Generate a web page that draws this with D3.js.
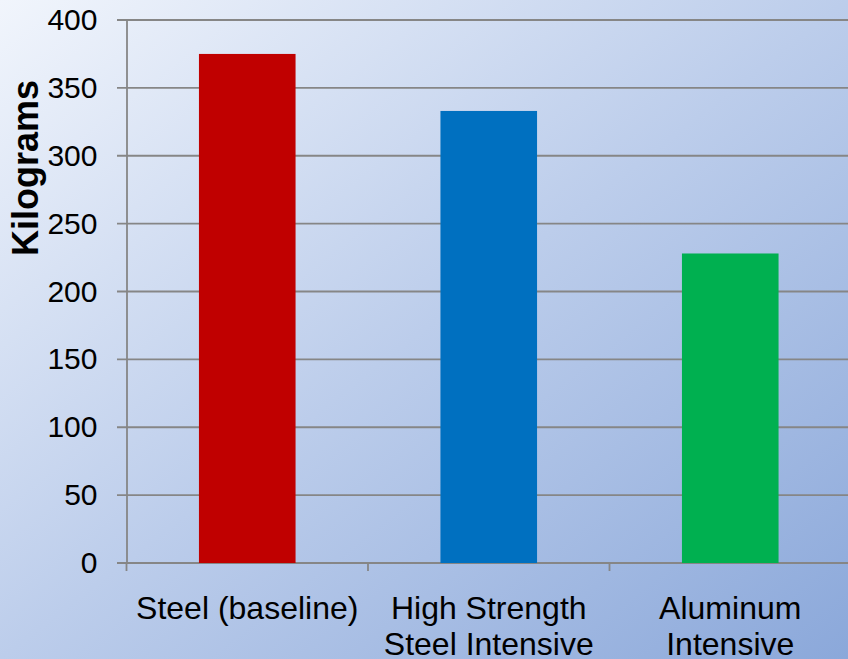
<!DOCTYPE html>
<html>
<head>
<meta charset="utf-8">
<script src="https://cdn.jsdelivr.net/npm/d3@7"></script>
<style>
  html, body { margin: 0; padding: 0; overflow: hidden; }
  svg { display: block; font-family: "Liberation Sans", Arial, sans-serif; }
</style>
</head>
<body>
<div class="graphic"></div>
<script>
var categories = ["Steel (baseline)", "High Strength\nSteel Intensive", "Aluminum\nIntensive"];
var values = [375, 333, 228];
var barColors = ["#c00000", "#0070c0", "#00b050"];
var yTicks = [0, 50, 100, 150, 200, 250, 300, 350, 400];
var yTitle = "Kilograms";

var width = 848, height = 659;
var margin = { top: 20, left: 126.5, bottom: 96 };

var svg = d3.select(".graphic").append("svg")
  .attr("width", width)
  .attr("height", height);

// background gradient
var defs = svg.append("defs");
var grad = defs.append("linearGradient")
  .attr("id", "bg")
  .attr("x1", "0%").attr("y1", "0%")
  .attr("x2", "100%").attr("y2", "100%");
grad.append("stop").attr("offset", "0%").attr("stop-color", "#f1f5fc");
grad.append("stop").attr("offset", "50%").attr("stop-color", "#bccdeb");
grad.append("stop").attr("offset", "100%").attr("stop-color", "#8ba8da");

svg.append("rect")
  .attr("width", width)
  .attr("height", height)
  .attr("fill", "url(#bg)");

var y = d3.scaleLinear()
  .domain([0, 400])
  .range([563, margin.top]);

var x = d3.scaleBand()
  .domain(categories)
  .range([margin.left, margin.left + 3 * 241.5])
  .paddingInner(0.6)
  .paddingOuter(0.3);

// gridlines
svg.append("g")
  .selectAll("line")
  .data(yTicks)
  .join("line")
  .attr("x1", 117)
  .attr("x2", width)
  .attr("y1", d => y(d))
  .attr("y2", d => y(d))
  .attr("stroke", "#868686")
  .attr("stroke-width", 1.8);

// y axis
var yAxis = svg.append("g")
  .attr("transform", "translate(" + margin.left + ",0)")
  .call(d3.axisLeft(y).tickValues(yTicks).tickSize(0).tickPadding(29));
yAxis.select(".domain").attr("stroke", "#868686").attr("stroke-width", 1.8);
yAxis.selectAll("text")
  .attr("font-size", 30)
  .attr("fill", "#000")
  .attr("font-family", "'Liberation Sans', Arial, sans-serif");

// bars
svg.append("g")
  .selectAll("rect")
  .data(values)
  .join("rect")
  .attr("x", (d, i) => x(categories[i]))
  .attr("width", x.bandwidth())
  .attr("y", d => y(d))
  .attr("height", d => y(0) - y(d))
  .attr("fill", (d, i) => barColors[i]);

// x axis ticks (at band boundaries)
var boundaries = d3.range(categories.length + 1).map(i => margin.left + i * 241.5);
svg.append("g")
  .selectAll("line")
  .data(boundaries)
  .join("line")
  .attr("x1", d => d).attr("x2", d => d)
  .attr("y1", y(0)).attr("y2", y(0) + 8)
  .attr("stroke", "#868686")
  .attr("stroke-width", 1.8);

// x labels
var xl = svg.append("g")
  .selectAll("text")
  .data(categories)
  .join("text")
  .attr("x", d => x(d) + x.bandwidth() / 2)
  .attr("y", 619)
  .attr("text-anchor", "middle")
  .attr("font-size", 32)
  .attr("fill", "#000");
xl.selectAll("tspan")
  .data(d => d.split("\n"))
  .join("tspan")
  .attr("x", function() { return d3.select(this.parentNode).attr("x"); })
  .attr("dy", (d, i) => i === 0 ? 0 : 36)
  .text(d => d);

// y title
svg.append("text")
  .attr("transform", "translate(38,168) rotate(-90)")
  .attr("text-anchor", "middle")
  .attr("font-size", 36)
  .attr("font-weight", "bold")
  .attr("fill", "#000")
  .text(yTitle);
</script>
</body>
</html>
